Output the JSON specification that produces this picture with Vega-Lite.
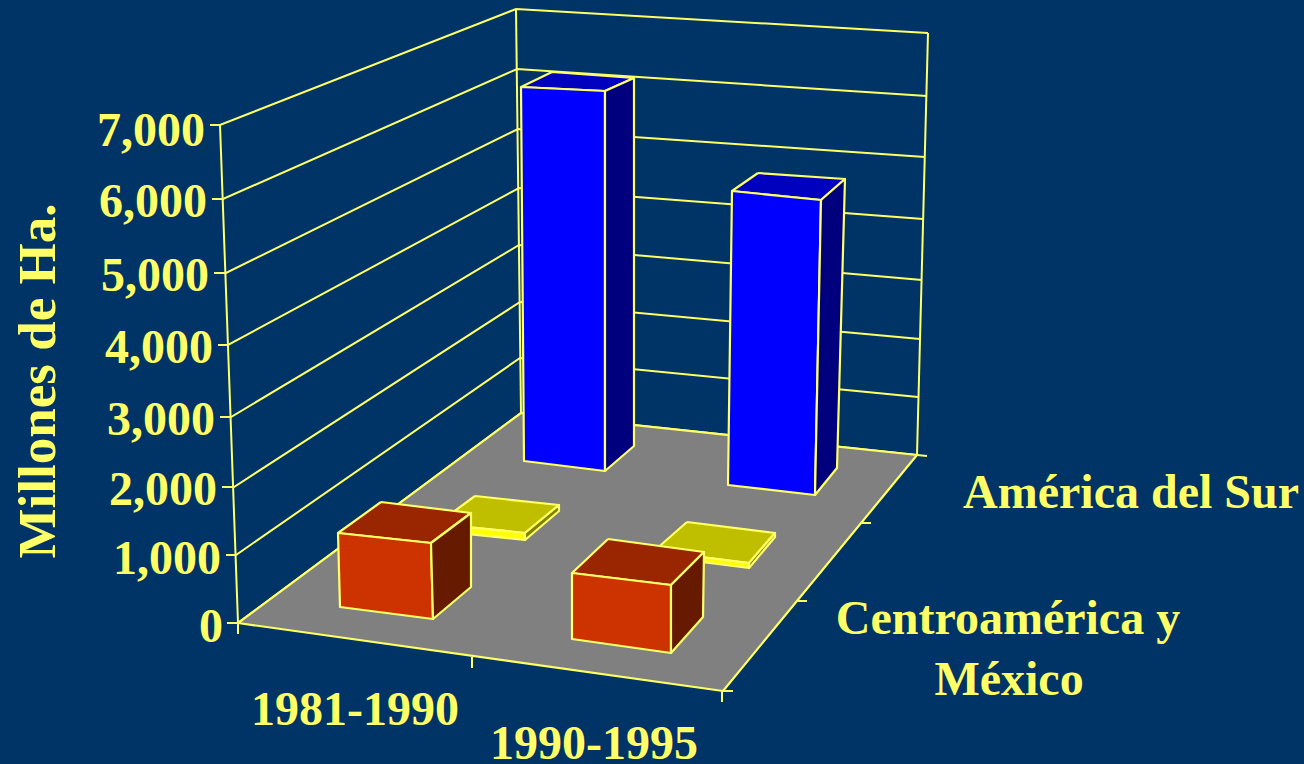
{"$schema":"https://vega.github.io/schema/vega-lite/v6.json","width":1304,"height":764,"padding":0,"autosize":"none","background":"#003366","config":{"view":{"stroke":null}},
"datasets":{
"frame":[
{"line":"level7000","i":0,"x":210,"y":125},{"line":"level7000","i":1,"x":220,"y":125},{"line":"level7000","i":2,"x":516,"y":9},{"line":"level7000","i":3,"x":928,"y":33},
{"line":"level6000","i":0,"x":212,"y":199},{"line":"level6000","i":1,"x":223,"y":199},{"line":"level6000","i":2,"x":517,"y":69},{"line":"level6000","i":3,"x":927,"y":96},
{"line":"level5000","i":0,"x":214,"y":273},{"line":"level5000","i":1,"x":226,"y":273},{"line":"level5000","i":2,"x":518,"y":129},{"line":"level5000","i":3,"x":925,"y":157},
{"line":"level4000","i":0,"x":218,"y":345},{"line":"level4000","i":1,"x":228,"y":345},{"line":"level4000","i":2,"x":519,"y":188},{"line":"level4000","i":3,"x":923,"y":219},
{"line":"level3000","i":0,"x":220,"y":417},{"line":"level3000","i":1,"x":231,"y":417},{"line":"level3000","i":2,"x":519,"y":245},{"line":"level3000","i":3,"x":922,"y":280},
{"line":"level2000","i":0,"x":222,"y":487},{"line":"level2000","i":1,"x":234,"y":487},{"line":"level2000","i":2,"x":520,"y":302},{"line":"level2000","i":3,"x":920,"y":339},
{"line":"level1000","i":0,"x":226,"y":555},{"line":"level1000","i":1,"x":236,"y":555},{"line":"level1000","i":2,"x":520,"y":358},{"line":"level1000","i":3,"x":918,"y":397},
{"line":"level0","i":0,"x":227,"y":623},{"line":"level0","i":1,"x":238,"y":623},{"line":"level0","i":2,"x":521,"y":413},{"line":"level0","i":3,"x":917,"y":455},{"line":"level0","i":4,"x":927,"y":456},
{"line":"axisLeft","i":0,"x":220,"y":125},{"line":"axisLeft","i":1,"x":238,"y":623},{"line":"axisLeft","i":2,"x":238,"y":634},
{"line":"cornerBack","i":0,"x":516,"y":9},{"line":"cornerBack","i":1,"x":521,"y":413},
{"line":"cornerRight","i":0,"x":928,"y":33},{"line":"cornerRight","i":1,"x":917,"y":455}
],
"faces":[
{"face":"floor","part":"floor","i":0,"x":238,"y":623},{"face":"floor","part":"floor","i":1,"x":521,"y":413},{"face":"floor","part":"floor","i":2,"x":917,"y":455},{"face":"floor","part":"floor","i":3,"x":723,"y":691},{"face":"floor","part":"floor","i":4,"x":238,"y":623},

{"face":"y1top","part":"yellowTop","i":0,"x":475,"y":496},{"face":"y1top","part":"yellowTop","i":1,"x":559,"y":505},{"face":"y1top","part":"yellowTop","i":2,"x":525,"y":533},{"face":"y1top","part":"yellowTop","i":3,"x":437,"y":524},{"face":"y1top","part":"yellowTop","i":4,"x":475,"y":496},
{"face":"y1front","part":"yellowFront","i":0,"x":437,"y":524},{"face":"y1front","part":"yellowFront","i":1,"x":525,"y":533},{"face":"y1front","part":"yellowFront","i":2,"x":525,"y":540},{"face":"y1front","part":"yellowFront","i":3,"x":437,"y":531},{"face":"y1front","part":"yellowFront","i":4,"x":437,"y":524},
{"face":"y1side","part":"yellowSide","i":0,"x":525,"y":533},{"face":"y1side","part":"yellowSide","i":1,"x":559,"y":505},{"face":"y1side","part":"yellowSide","i":2,"x":559,"y":511},{"face":"y1side","part":"yellowSide","i":3,"x":525,"y":540},{"face":"y1side","part":"yellowSide","i":4,"x":525,"y":533},

{"face":"y2top","part":"yellowTop","i":0,"x":687,"y":522},{"face":"y2top","part":"yellowTop","i":1,"x":775,"y":533},{"face":"y2top","part":"yellowTop","i":2,"x":749,"y":563},{"face":"y2top","part":"yellowTop","i":3,"x":654,"y":551},{"face":"y2top","part":"yellowTop","i":4,"x":687,"y":522},
{"face":"y2front","part":"yellowFront","i":0,"x":654,"y":551},{"face":"y2front","part":"yellowFront","i":1,"x":749,"y":563},{"face":"y2front","part":"yellowFront","i":2,"x":749,"y":568},{"face":"y2front","part":"yellowFront","i":3,"x":654,"y":556},{"face":"y2front","part":"yellowFront","i":4,"x":654,"y":551},
{"face":"y2side","part":"yellowSide","i":0,"x":749,"y":563},{"face":"y2side","part":"yellowSide","i":1,"x":775,"y":533},{"face":"y2side","part":"yellowSide","i":2,"x":775,"y":537},{"face":"y2side","part":"yellowSide","i":3,"x":749,"y":568},{"face":"y2side","part":"yellowSide","i":4,"x":749,"y":563},

{"face":"b1top","part":"blueTop","i":0,"x":552,"y":72},{"face":"b1top","part":"blueTop","i":1,"x":634,"y":78},{"face":"b1top","part":"blueTop","i":2,"x":605,"y":91},{"face":"b1top","part":"blueTop","i":3,"x":521,"y":87},{"face":"b1top","part":"blueTop","i":4,"x":552,"y":72},
{"face":"b1front","part":"blueFront","i":0,"x":521,"y":87},{"face":"b1front","part":"blueFront","i":1,"x":605,"y":91},{"face":"b1front","part":"blueFront","i":2,"x":605,"y":471},{"face":"b1front","part":"blueFront","i":3,"x":524,"y":461},{"face":"b1front","part":"blueFront","i":4,"x":521,"y":87},
{"face":"b1side","part":"blueSide","i":0,"x":605,"y":91},{"face":"b1side","part":"blueSide","i":1,"x":634,"y":78},{"face":"b1side","part":"blueSide","i":2,"x":634,"y":446},{"face":"b1side","part":"blueSide","i":3,"x":605,"y":471},{"face":"b1side","part":"blueSide","i":4,"x":605,"y":91},

{"face":"b2top","part":"blueTop","i":0,"x":758,"y":173},{"face":"b2top","part":"blueTop","i":1,"x":845,"y":179},{"face":"b2top","part":"blueTop","i":2,"x":821,"y":200},{"face":"b2top","part":"blueTop","i":3,"x":732,"y":191},{"face":"b2top","part":"blueTop","i":4,"x":758,"y":173},
{"face":"b2front","part":"blueFront","i":0,"x":732,"y":191},{"face":"b2front","part":"blueFront","i":1,"x":821,"y":200},{"face":"b2front","part":"blueFront","i":2,"x":815,"y":495},{"face":"b2front","part":"blueFront","i":3,"x":728,"y":485},{"face":"b2front","part":"blueFront","i":4,"x":732,"y":191},
{"face":"b2side","part":"blueSide","i":0,"x":821,"y":200},{"face":"b2side","part":"blueSide","i":1,"x":845,"y":179},{"face":"b2side","part":"blueSide","i":2,"x":837,"y":468},{"face":"b2side","part":"blueSide","i":3,"x":815,"y":495},{"face":"b2side","part":"blueSide","i":4,"x":821,"y":200},

{"face":"o1top","part":"orangeTop","i":0,"x":381,"y":502},{"face":"o1top","part":"orangeTop","i":1,"x":471,"y":513},{"face":"o1top","part":"orangeTop","i":2,"x":431,"y":543},{"face":"o1top","part":"orangeTop","i":3,"x":338,"y":533},{"face":"o1top","part":"orangeTop","i":4,"x":381,"y":502},
{"face":"o1front","part":"orangeFront","i":0,"x":338,"y":533},{"face":"o1front","part":"orangeFront","i":1,"x":431,"y":543},{"face":"o1front","part":"orangeFront","i":2,"x":433,"y":619},{"face":"o1front","part":"orangeFront","i":3,"x":340,"y":607},{"face":"o1front","part":"orangeFront","i":4,"x":338,"y":533},
{"face":"o1side","part":"orangeSide","i":0,"x":431,"y":543},{"face":"o1side","part":"orangeSide","i":1,"x":471,"y":513},{"face":"o1side","part":"orangeSide","i":2,"x":471,"y":587},{"face":"o1side","part":"orangeSide","i":3,"x":433,"y":619},{"face":"o1side","part":"orangeSide","i":4,"x":431,"y":543},

{"face":"o2top","part":"orangeTop","i":0,"x":608,"y":539},{"face":"o2top","part":"orangeTop","i":1,"x":704,"y":552},{"face":"o2top","part":"orangeTop","i":2,"x":671,"y":585},{"face":"o2top","part":"orangeTop","i":3,"x":572,"y":573},{"face":"o2top","part":"orangeTop","i":4,"x":608,"y":539},
{"face":"o2front","part":"orangeFront","i":0,"x":572,"y":573},{"face":"o2front","part":"orangeFront","i":1,"x":671,"y":585},{"face":"o2front","part":"orangeFront","i":2,"x":671,"y":653},{"face":"o2front","part":"orangeFront","i":3,"x":572,"y":639},{"face":"o2front","part":"orangeFront","i":4,"x":572,"y":573},
{"face":"o2side","part":"orangeSide","i":0,"x":671,"y":585},{"face":"o2side","part":"orangeSide","i":1,"x":704,"y":552},{"face":"o2side","part":"orangeSide","i":2,"x":703,"y":617},{"face":"o2side","part":"orangeSide","i":3,"x":671,"y":653},{"face":"o2side","part":"orangeSide","i":4,"x":671,"y":585}
],
"ticks":[
{"line":"t1","i":0,"x":472,"y":657},{"line":"t1","i":1,"x":472,"y":668},
{"line":"t2","i":0,"x":722,"y":691},{"line":"t2","i":1,"x":722,"y":702},
{"line":"t3","i":0,"x":722,"y":691},{"line":"t3","i":1,"x":733,"y":691},
{"line":"t4","i":0,"x":798,"y":601},{"line":"t4","i":1,"x":807,"y":601},
{"line":"t5","i":0,"x":862,"y":523},{"line":"t5","i":1,"x":871,"y":523}
]},
"encoding":{},
"layer":[
{"data":{"name":"frame"},"mark":{"type":"line","stroke":"#FFFF66","strokeWidth":2,"interpolate":"linear"},
"encoding":{"x":{"field":"x","type":"quantitative","scale":{"domain":[0,1304]},"axis":null},"y":{"field":"y","type":"quantitative","scale":{"domain":[764,0]},"axis":null},"detail":{"field":"line"},"order":{"field":"i"}}},
{"data":{"name":"faces"},"mark":{"type":"line","stroke":"#FFFF66","strokeWidth":2.2,"strokeJoin":"round"},
"encoding":{"x":{"field":"x","type":"quantitative","scale":{"domain":[0,1304]},"axis":null},"y":{"field":"y","type":"quantitative","scale":{"domain":[764,0]},"axis":null},"detail":{"field":"face"},"order":{"field":"i"},
"fill":{"field":"part","type":"nominal","legend":null,"scale":{"domain":["floor","yellowTop","yellowFront","yellowSide","blueTop","blueFront","blueSide","orangeTop","orangeFront","orangeSide"],"range":["#808080","#BFBF00","#FFFF00","#7F7F00","#0000BF","#0000FF","#00007F","#992600","#CC3300","#661A00"]}}}},
{"data":{"name":"ticks"},"mark":{"type":"line","stroke":"#FFFF66","strokeWidth":2},
"encoding":{"x":{"field":"x","type":"quantitative","scale":{"domain":[0,1304]},"axis":null},"y":{"field":"y","type":"quantitative","scale":{"domain":[764,0]},"axis":null},"detail":{"field":"line"},"order":{"field":"i"}}},
{"data":{"values":[{"label":"7,000","x":205,"y":146},{"label":"6,000","x":207,"y":217},{"label":"5,000","x":209,"y":291},{"label":"4,000","x":213,"y":363},{"label":"3,000","x":215,"y":435},{"label":"2,000","x":217,"y":505},{"label":"1,000","x":221,"y":574},{"label":"0","x":223,"y":642}]},
"mark":{"type":"text","font":"Liberation Serif","fontWeight":"bold","fontSize":48,"align":"right","baseline":"alphabetic","color":"#FFFF66"},
"encoding":{"x":{"field":"x","type":"quantitative","scale":{"domain":[0,1304]},"axis":null},"y":{"field":"y","type":"quantitative","scale":{"domain":[764,0]},"axis":null},"text":{"field":"label"}}},
{"data":{"values":[{"label":"1981-1990","x":355,"y":725},{"label":"1990-1995","x":594,"y":759},{"label":"América del Sur","x":1131,"y":508},{"label":"Centroamérica y","x":1008,"y":634},{"label":"México","x":1009,"y":695}]},
"mark":{"type":"text","font":"Liberation Serif","fontWeight":"bold","fontSize":48,"align":"center","baseline":"alphabetic","color":"#FFFF66"},
"encoding":{"x":{"field":"x","type":"quantitative","scale":{"domain":[0,1304]},"axis":null},"y":{"field":"y","type":"quantitative","scale":{"domain":[764,0]},"axis":null},"text":{"field":"label"}}},
{"data":{"values":[{"label":"Millones de Ha.","x":55,"y":381}]},
"mark":{"type":"text","font":"Liberation Serif","fontWeight":"bold","fontSize":53,"align":"center","baseline":"alphabetic","angle":270,"color":"#FFFF66"},
"encoding":{"x":{"field":"x","type":"quantitative","scale":{"domain":[0,1304]},"axis":null},"y":{"field":"y","type":"quantitative","scale":{"domain":[764,0]},"axis":null},"text":{"field":"label"}}}
]}
